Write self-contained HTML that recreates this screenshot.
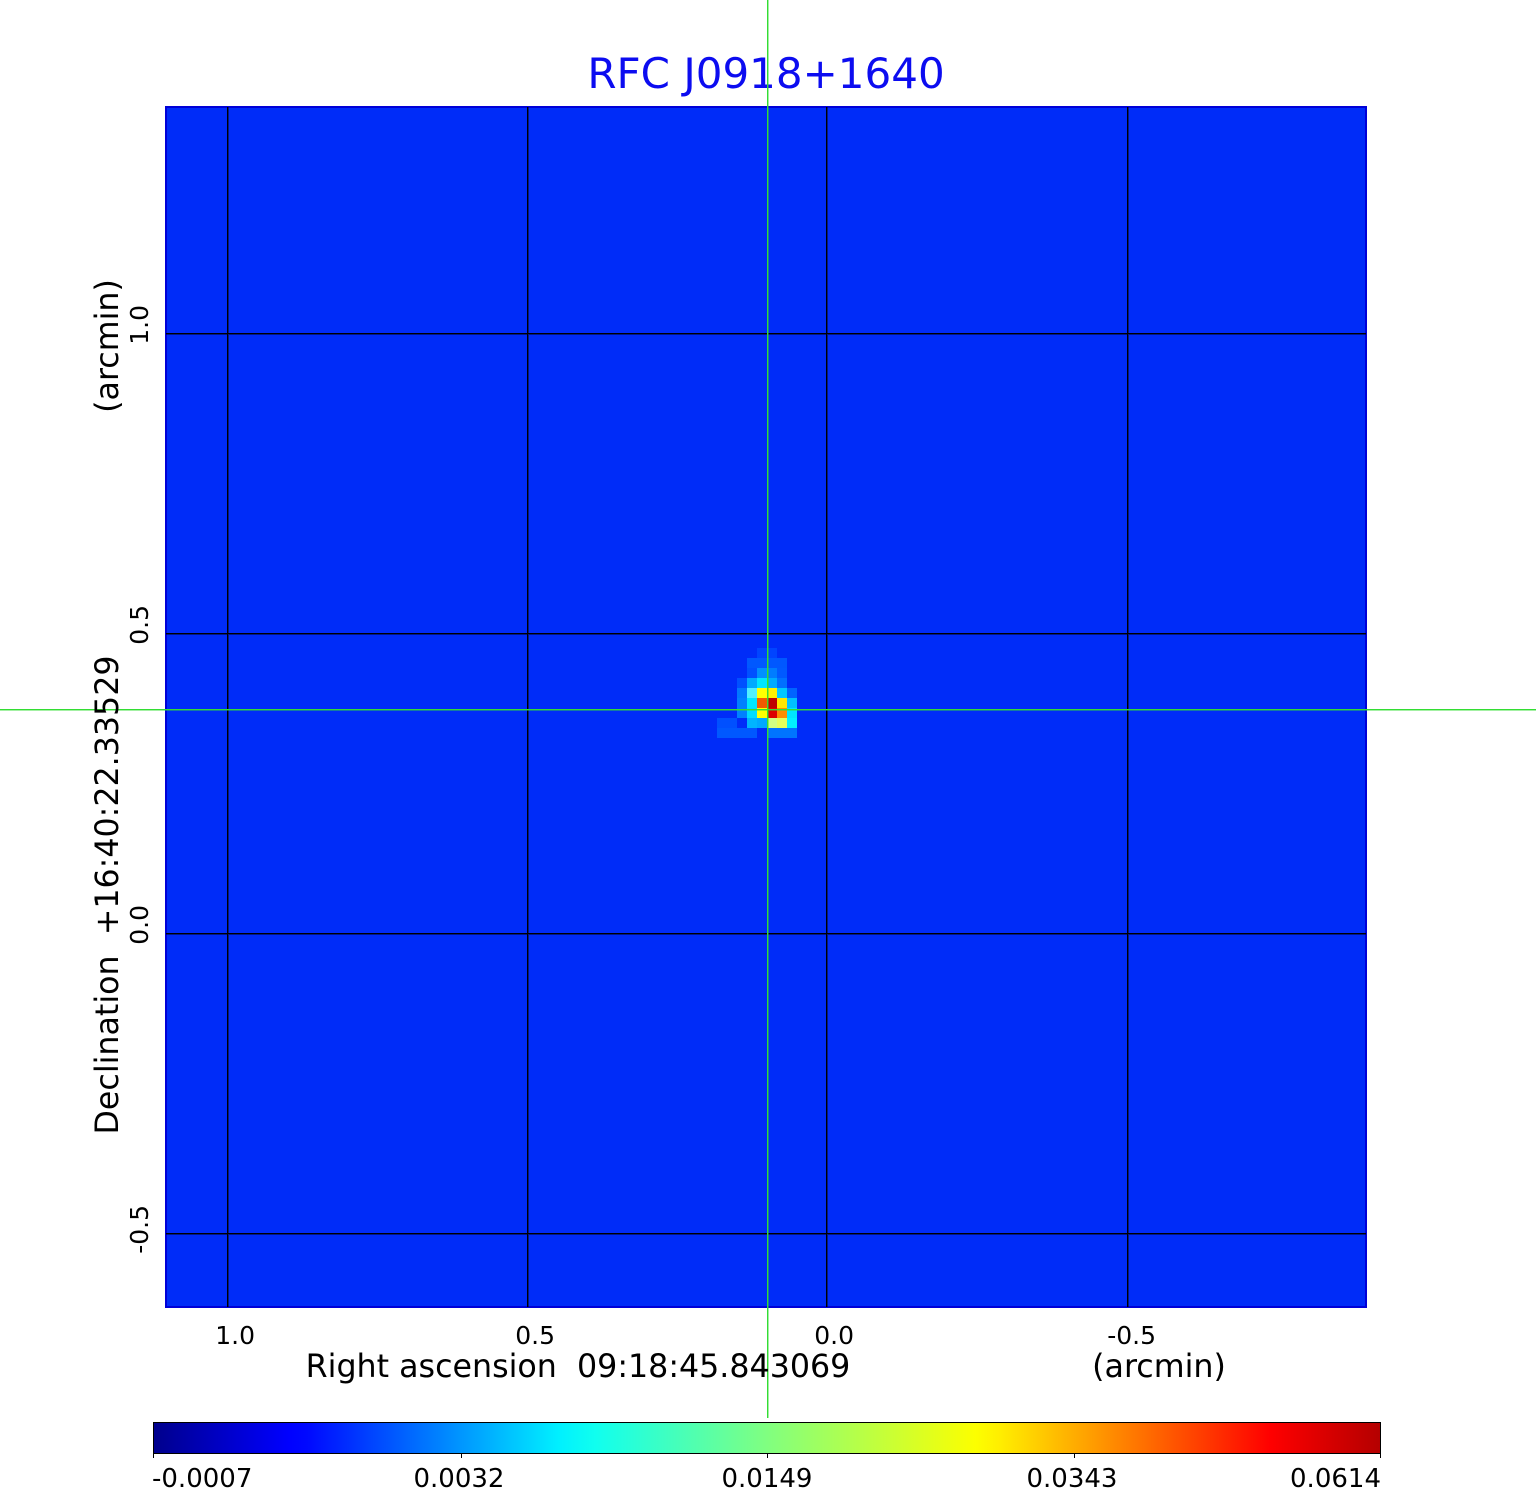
<!DOCTYPE html>
<html>
<head>
<meta charset="utf-8">
<style>
html,body{margin:0;padding:0;background:#fff;}
body{width:1536px;height:1511px;overflow:hidden;}
svg{display:block;}
text{font-family:"DejaVu Sans","Liberation Sans",sans-serif;}
</style>
</head>
<body>
<svg width="1536" height="1511" viewBox="0 0 1536 1511" xmlns="http://www.w3.org/2000/svg">
  <defs>
    <linearGradient id="jet" x1="0" y1="0" x2="1" y2="0">
      <stop offset="0" stop-color="#00008c"/>
      <stop offset="0.11" stop-color="#0000ff"/>
      <stop offset="0.125" stop-color="#0008ff"/>
      <stop offset="0.33" stop-color="#00f0ff"/>
      <stop offset="0.36" stop-color="#10ffef"/>
      <stop offset="0.5" stop-color="#80ff80"/>
      <stop offset="0.67" stop-color="#fcff00"/>
      <stop offset="0.69" stop-color="#ffee00"/>
      <stop offset="0.91" stop-color="#ff0000"/>
      <stop offset="1" stop-color="#b40000"/>
    </linearGradient>
  </defs>

  <!-- Title -->
  <text x="766" y="88" font-size="42" fill="#0c0cf0" text-anchor="middle">RFC J0918+1640</text>

  <!-- image area -->
  <rect x="166" y="107" width="1200" height="1200" fill="#002cf8"/>
  <!-- halo around source -->
  <g shape-rendering="crispEdges">
  <rect x="757" y="648" width="20" height="10" fill="#0044ff"/>
  <rect x="747" y="658" width="40" height="10" fill="#0058ff"/>
  <rect x="747" y="668" width="10" height="10" fill="#0050ff"/>
  <rect x="757" y="668" width="10" height="10" fill="#0090ff"/>
  <rect x="767" y="668" width="10" height="10" fill="#007cff"/>
  <rect x="777" y="668" width="10" height="10" fill="#005aff"/>
  <rect x="737" y="678" width="10" height="10" fill="#0050ff"/>
  <rect x="747" y="678" width="10" height="10" fill="#00aaff"/>
  <rect x="757" y="678" width="10" height="10" fill="#00e6ff"/>
  <rect x="767" y="678" width="10" height="10" fill="#00aaff"/>
  <rect x="777" y="678" width="10" height="10" fill="#0070ff"/>
  <rect x="737" y="688" width="10" height="10" fill="#0078ff"/>
  <rect x="747" y="688" width="10" height="10" fill="#50f0ff"/>
  <rect x="757" y="688" width="10" height="10" fill="#ffff00"/>
  <rect x="767" y="688" width="10" height="10" fill="#fff000"/>
  <rect x="777" y="688" width="10" height="10" fill="#00c8ff"/>
  <rect x="787" y="688" width="10" height="10" fill="#0064ff"/>
  <rect x="737" y="698" width="10" height="10" fill="#0080ff"/>
  <rect x="747" y="698" width="10" height="10" fill="#00e6ff"/>
  <rect x="757" y="698" width="10" height="10" fill="#f05a00"/>
  <rect x="767" y="698" width="10" height="10" fill="#be0000"/>
  <rect x="777" y="698" width="10" height="10" fill="#ffe600"/>
  <rect x="787" y="698" width="10" height="10" fill="#00c0ff"/>
  <rect x="737" y="708" width="10" height="10" fill="#0080ff"/>
  <rect x="747" y="708" width="10" height="10" fill="#00dcff"/>
  <rect x="757" y="708" width="10" height="10" fill="#ffff00"/>
  <rect x="767" y="708" width="10" height="10" fill="#dc0000"/>
  <rect x="777" y="708" width="10" height="10" fill="#ff8c00"/>
  <rect x="787" y="708" width="10" height="10" fill="#00e6ff"/>
  <rect x="747" y="718" width="10" height="10" fill="#00b4ff"/>
  <rect x="757" y="718" width="10" height="10" fill="#00a8ff"/>
  <rect x="767" y="718" width="10" height="10" fill="#d2ff82"/>
  <rect x="777" y="718" width="10" height="10" fill="#e6ff5a"/>
  <rect x="787" y="718" width="10" height="10" fill="#00f0ff"/>
  <rect x="717" y="718" width="20" height="10" fill="#0050ff"/>
  <rect x="717" y="728" width="40" height="10" fill="#0058ff"/>
  <rect x="767" y="728" width="30" height="10" fill="#0074ff"/>
  </g>

  <!-- image border -->
  <rect x="166" y="107" width="1200" height="1200" fill="none" stroke="#0000d8" stroke-width="2"/>

  <!-- grid lines -->
  <g fill="#000" shape-rendering="crispEdges">
    <rect x="227" y="107" width="1" height="1200"/>
    <rect x="527" y="107" width="1" height="1200"/>
    <rect x="826" y="107" width="1" height="1200"/>
    <rect x="1127" y="107" width="1" height="1200"/>
    <rect x="166" y="333" width="1200" height="1"/>
    <rect x="166" y="633" width="1200" height="1"/>
    <rect x="166" y="933" width="1200" height="1"/>
    <rect x="166" y="1233" width="1200" height="1"/>
  </g>
  <g fill="#000" opacity="0.45" shape-rendering="crispEdges">
    <rect x="228" y="107" width="1" height="1200"/>
    <rect x="528" y="107" width="1" height="1200"/>
    <rect x="827" y="107" width="1" height="1200"/>
    <rect x="1128" y="107" width="1" height="1200"/>
    <rect x="166" y="334" width="1200" height="1"/>
    <rect x="166" y="634" width="1200" height="1"/>
    <rect x="166" y="934" width="1200" height="1"/>
    <rect x="166" y="1234" width="1200" height="1"/>
  </g>

  <!-- green crosshair -->
  <g fill="#33dd33" shape-rendering="crispEdges">
    <rect x="767" y="0" width="1" height="1418"/>
    <rect x="0" y="709" width="1536" height="1"/>
  </g>
  <g fill="#33dd33" opacity="0.45" shape-rendering="crispEdges">
    <rect x="768" y="0" width="1" height="1418"/>
    <rect x="0" y="710" width="1536" height="1"/>
  </g>

  <!-- x tick labels -->
  <g font-size="25" fill="#000" text-anchor="end">
    <text x="255" y="1344">1.0</text>
    <text x="555" y="1344">0.5</text>
    <text x="854" y="1344">0.0</text>
    <text x="1156" y="1344">-0.5</text>
  </g>
  <!-- x axis labels -->
  <text x="578" y="1377" font-size="31.7" fill="#000" text-anchor="middle" xml:space="preserve">Right ascension  09:18:45.843069</text>
  <text x="1159" y="1377" font-size="31.7" fill="#000" text-anchor="middle">(arcmin)</text>

  <!-- y tick labels (rotated) -->
  <g font-size="25" fill="#000" text-anchor="end">
    <text transform="translate(148,305) rotate(-90)">1.0</text>
    <text transform="translate(148,605) rotate(-90)">0.5</text>
    <text transform="translate(148,905) rotate(-90)">0.0</text>
    <text transform="translate(148,1205) rotate(-90)">-0.5</text>
  </g>
  <!-- y axis labels -->
  <text transform="translate(118,895) rotate(-90)" font-size="31.7" fill="#000" text-anchor="middle" xml:space="preserve">Declination  +16:40:22.33529</text>
  <text transform="translate(118,346) rotate(-90)" font-size="31.7" fill="#000" text-anchor="middle">(arcmin)</text>

  <!-- colorbar -->
  <rect x="153.5" y="1422.5" width="1227" height="31" fill="url(#jet)" stroke="#000" stroke-width="1"/>
  <g fill="#000" shape-rendering="crispEdges">
    <rect x="153" y="1453" width="1" height="5"/>
    <rect x="461" y="1453" width="1" height="5"/>
    <rect x="767" y="1453" width="1" height="5"/>
    <rect x="1074" y="1453" width="1" height="5"/>
    <rect x="1380" y="1453" width="1" height="5"/>
  </g>
  <g font-size="26" fill="#000">
    <text x="152" y="1487" text-anchor="start">-0.0007</text>
    <text x="459" y="1487" text-anchor="middle">0.0032</text>
    <text x="767" y="1487" text-anchor="middle">0.0149</text>
    <text x="1072" y="1487" text-anchor="middle">0.0343</text>
    <text x="1381" y="1487" text-anchor="end">0.0614</text>
  </g>
</svg>
</body>
</html>
